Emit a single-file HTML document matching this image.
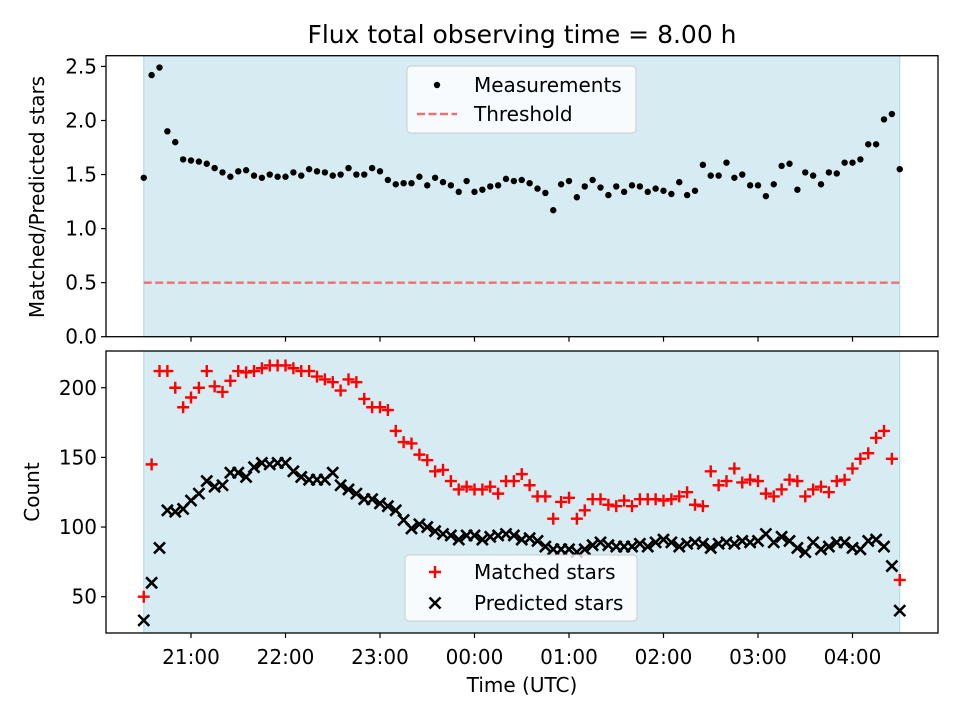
<!DOCTYPE html>
<html><head><meta charset="utf-8">
<style>
html,body{margin:0;padding:0;background:#fff;}
svg{display:block;font-family:"DejaVu Sans","Liberation Sans",sans-serif;}
</style></head>
<body>
<svg id="chart" width="960" height="720" viewBox="0 0 960 720" xmlns="http://www.w3.org/2000/svg">
<text x="522" y="43" font-size="25" text-anchor="middle" fill="#000">Flux total observing time = 8.00 h</text>
<g id="top"></g>
<g id="bot"></g>
<text x="522" y="692" font-size="20" text-anchor="middle">Time (UTC)</text>
<text transform="translate(44,197) rotate(-90)" font-size="20" text-anchor="middle">Matched/Predicted stars</text>
<text transform="translate(39,492) rotate(-90)" font-size="20" text-anchor="middle">Count</text>
</svg>
<script>
const ratioValues=[1.47,2.42,2.49,1.90,1.80,1.64,1.63,1.62,1.60,1.56,
1.52,1.48,1.53,1.54,1.49,1.47,1.50,1.48,1.48,1.52,
1.49,1.55,1.53,1.52,1.49,1.50,1.56,1.50,1.50,1.56,
1.53,1.45,1.41,1.42,1.42,1.48,1.40,1.47,1.43,1.40,
1.34,1.44,1.34,1.36,1.39,1.40,1.46,1.44,1.45,1.42,
1.37,1.33,1.17,1.41,1.44,1.29,1.39,1.45,1.38,1.31,
1.39,1.34,1.40,1.39,1.34,1.37,1.35,1.32,1.43,1.31,
1.35,1.59,1.49,1.49,1.61,1.47,1.50,1.40,1.40,1.30,
1.41,1.58,1.60,1.36,1.52,1.49,1.41,1.52,1.51,1.61,
1.61,1.64,1.78,1.78,2.01,2.06,1.55];
const matchedValues=[50,145,212,212,200,186,193,200,212,201,
197,205,212,211,212,214,216,216,216,214,
212,212,208,206,204,198,206,204,192,186,
186,184,169,161,160,152,148,140,141,133,
127,129,127,127,129,124,133,133,138,130,
122,122,106,118,121,106,112,120,120,116,
115,119,115,120,120,120,119,120,122,125,
116,115,140,130,133,142,132,134,133,124,
122,127,134,133,122,127,129,125,133,134,
142,149,153,164,169,149,62];
const predictedValues=[33,60,85,112,111,113,119,124,133,129,
130,139,139,136,143,146,145,146,146,140,
136,134,134,134,139,130,127,124,120,120,
117,115,112,105,99,102,100,97,95,94,
91,94,94,91,93,94,95,94,91,92,
90,86,84,84,84,82,84,87,89,87,
86,86,86,88,86,89,91,89,86,88,
89,88,85,88,89,88,90,89,90,95,
89,93,90,85,82,89,84,86,89,89,
85,84,90,91,86,72,40];
const threshold=0.5;
const xTickLabels=["21:00","22:00","23:00","00:00","01:00","02:00","03:00","04:00"];
const topYTicks=[0.0,0.5,1.0,1.5,2.0,2.5];
const botYTicks=[50,100,150,200];
const startHour=-0.5, stepHours=5/60, endHour=7.5;

const NS="http://www.w3.org/2000/svg";
const L=106,R=938;
const xScale=h=>191+h*94.5;
const topY=v=>336.7-v*108.1;
const botY=v=>596.7-(v-50)*1.393;
function mk(tag,attrs,parent){const e=document.createElementNS(NS,tag);for(const k in attrs)e.setAttribute(k,attrs[k]);parent.appendChild(e);return e;}

function panel(g,y0,y1,name){
  const bg=mk('rect',{x:xScale(startHour),y:y0,width:xScale(endHour)-xScale(startHour),height:y1-y0,fill:'#add8e6','fill-opacity':0.5,stroke:'#add8e6','stroke-width':1},g);
  
  
  xTickLabels.forEach((lab,i)=>{
    const x=xScale(i);
    const t=mk('line',{x1:x,x2:x,y1:y1,y2:y1+5,stroke:'#000','stroke-width':1.2},g);
    
    
  });
}
function frame(g,y0,y1,name){
  const f=mk('rect',{x:L,y:y0,width:R-L,height:y1-y0,fill:'none',stroke:'#000','stroke-width':1.3},g);
  
  
}
function yTicks(g,ticks,sc,fmt,name){
  ticks.forEach(v=>{
    const y=sc(v);
    const t=mk('line',{x1:L-5,x2:L,y1:y,y2:y,stroke:'#000','stroke-width':1.2},g);
    
    
    const tx=mk('text',{x:L-9,y:y+7,'font-size':20,'text-anchor':'end'},g);
    tx.textContent=fmt(v);
    
    
  });
}
const gt=document.getElementById('top');
panel(gt,55.7,336.7,'top');
const th=mk('line',{x1:xScale(startHour),x2:xScale(endHour),y1:topY(threshold),y2:topY(threshold),stroke:'#f07070','stroke-width':2.4,'stroke-dasharray':'8,3.5'},gt);


ratioValues.forEach((v,i)=>{
  const c=mk('circle',{cx:xScale(startHour+i*stepHours),cy:topY(v),r:3.2,fill:'#000'},gt);
  
  
});
frame(gt,55.7,336.7,'top');
yTicks(gt,topYTicks,topY,v=>v.toFixed(1),'top');
const tl=mk('g',{},gt);


mk('rect',{x:407,y:66,width:229,height:67,rx:4,fill:'#fff','fill-opacity':0.8,stroke:'#ccc','stroke-width':1},tl);
mk('circle',{cx:437,cy:85,r:3.2,fill:'#000'},tl);
let tt=mk('text',{x:474,y:92,'font-size':20},tl);tt.textContent='Measurements';
mk('line',{x1:417,x2:457,y1:114,y2:114,stroke:'#f07070','stroke-width':2.4,'stroke-dasharray':'8,3.5'},tl);
tt=mk('text',{x:474,y:121,'font-size':20},tl);tt.textContent='Threshold';

const gb=document.getElementById('bot');
panel(gb,351,633,'bottom');
predictedValues.forEach((v,i)=>{
  const x=xScale(startHour+i*stepHours),y=botY(v),s=5.5;
  const p=mk('path',{d:`M${x-s},${y-s}L${x+s},${y+s}M${x-s},${y+s}L${x+s},${y-s}`,stroke:'#000','stroke-width':2.6},gb);
  
  
});
matchedValues.forEach((v,i)=>{
  const x=xScale(startHour+i*stepHours),y=botY(v),s=6;
  const p=mk('path',{d:`M${x-s},${y}L${x+s},${y}M${x},${y-s}L${x},${y+s}`,stroke:'#f00','stroke-width':2.4},gb);
  
  
});
frame(gb,351,633,'bottom');
yTicks(gb,botYTicks,botY,v=>String(v),'bottom');
xTickLabels.forEach((lab,i)=>{
  const t=mk('text',{x:xScale(i),y:664,'font-size':20,'text-anchor':'middle'},gb);
  t.textContent=lab;
  
  
});
const bl=mk('g',{},gb);


mk('rect',{x:405,y:555,width:232,height:66,rx:4,fill:'#fff','fill-opacity':0.8,stroke:'#ccc','stroke-width':1},bl);
mk('path',{d:'M429,572L441,572M435,566L435,578',stroke:'#f00','stroke-width':2.4},bl);
tt=mk('text',{x:474,y:579,'font-size':20},bl);tt.textContent='Matched stars';
mk('path',{d:'M429.5,597.5L440.5,608.5M429.5,608.5L440.5,597.5',stroke:'#000','stroke-width':2.6},bl);
tt=mk('text',{x:474,y:610,'font-size':20},bl);tt.textContent='Predicted stars';
</script>
</body></html>
